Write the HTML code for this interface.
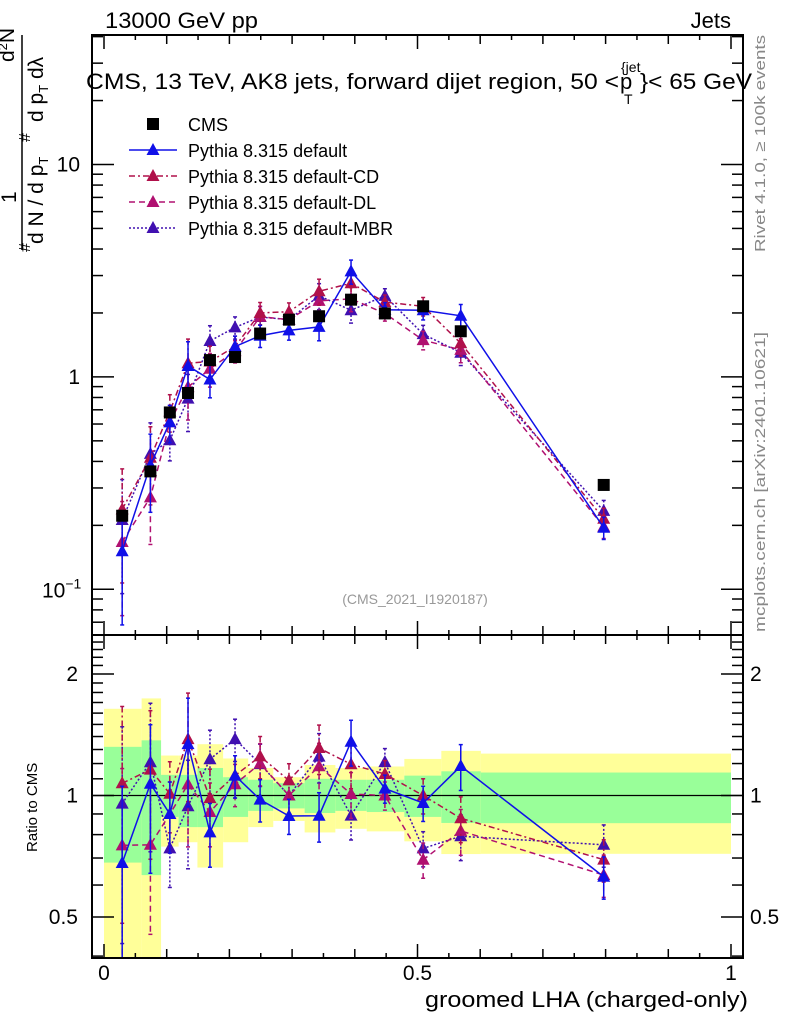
<!DOCTYPE html>
<html><head><meta charset="utf-8"><style>
html,body{margin:0;padding:0;background:#fff;}
svg{display:block;font-family:"Liberation Sans",sans-serif;}
</style></head><body>
<svg id="chart" width="786" height="1024" viewBox="0 0 786 1024" xmlns="http://www.w3.org/2000/svg">
<defs>
<clipPath id="clipMain"><rect x="92" y="35" width="651" height="600"/></clipPath>
<clipPath id="clipRatio"><rect x="92" y="635" width="651" height="323"/></clipPath>
</defs>
<rect x="0" y="0" width="786" height="1024" fill="#fff"/>
<g id="ratioBands" clip-path="url(#clipRatio)"></g>
<g id="mainMarks" clip-path="url(#clipMain)"></g>
<g id="ratioMarks" clip-path="url(#clipRatio)"></g>
<g id="axes"></g>
<text x="105" y="28" font-size="22" textLength="153" lengthAdjust="spacingAndGlyphs">13000 GeV pp</text>
<text x="731" y="28" font-size="22" text-anchor="end">Jets</text>
<g font-size="22">
<text x="86" y="89" textLength="533" lengthAdjust="spacingAndGlyphs">CMS, 13 TeV, AK8 jets, forward dijet region, 50 &lt;</text>
<text x="620" y="89">p</text>
<text x="621" y="72" font-size="14">{jet</text>
<text x="624" y="104" font-size="14">T</text>
<text x="640" y="89" textLength="112" lengthAdjust="spacingAndGlyphs">}&lt; 65 GeV</text>
</g>
<text x="415" y="604" font-size="14" fill="#999" text-anchor="middle">(CMS_2021_I1920187)</text>
<text transform="translate(765,252) rotate(-90)" font-size="15" fill="#888" textLength="217" lengthAdjust="spacingAndGlyphs">Rivet 4.1.0, ≥ 100k events</text>
<text transform="translate(765,632) rotate(-90)" font-size="15" fill="#888" textLength="300" lengthAdjust="spacingAndGlyphs">mcplots.cern.ch [arXiv:2401.10621]</text>
<g font-size="21">
<line x1="22" y1="35" x2="22" y2="250" stroke="#000" stroke-width="1.5"/>
<text transform="translate(14,62) rotate(-90)">d<tspan font-size="13" dy="-7">2</tspan><tspan dy="7">N</tspan></text>
<text transform="translate(43,122) rotate(-90)">d p<tspan font-size="13" dy="5">T</tspan><tspan dy="-5"> dλ</tspan></text>
<text transform="translate(30,142) rotate(-90)" font-size="16">#</text>
<text transform="translate(16,203) rotate(-90)">1</text>
<text transform="translate(43,244) rotate(-90)">d N / d p<tspan font-size="13" dy="5">T</tspan></text>
<text transform="translate(30,252) rotate(-90)" font-size="16">#</text>
</g>
<text transform="translate(37,852) rotate(-90)" font-size="15">Ratio to CMS</text>
<text x="425" y="1007" font-size="22" textLength="323" lengthAdjust="spacingAndGlyphs">groomed LHA (charged-only)</text>
<g id="legend"></g>
</svg>
<script>
const binEdges=[0,0.06,0.091,0.119,0.149,0.19,0.23,0.27,0.32,0.369,0.419,0.479,0.538,0.601,1.0];
const binCenters=[0.029,0.074,0.105,0.134,0.169,0.209,0.249,0.295,0.343,0.394,0.448,0.509,0.569,0.797];
const cmsValues=[0.222,0.359,0.68,0.84,1.20,1.24,1.6,1.86,1.93,2.31,1.99,2.15,1.64,0.31];
const defaultValues=[0.151,0.384,0.612,1.126,0.972,1.389,1.563,1.655,1.72,3.14,2.07,2.06,1.94,0.195];
const cdValues=[0.238,0.416,0.687,1.159,1.182,1.389,2.0,2.027,2.53,2.76,2.249,2.15,1.44,0.215];
const dlValues=[0.167,0.271,0.612,0.895,1.092,1.322,1.92,1.86,2.28,2.33,1.99,1.49,1.34,0.197];
const mbrValues=[0.212,0.434,0.503,0.79,1.476,1.711,1.914,1.86,2.41,2.06,2.408,1.59,1.30,0.234];
const modelRelErr=[0.55,0.4,0.2,0.3,0.18,0.12,0.12,0.10,0.14,0.13,0.08,0.1,0.13,0.12];
const totHi=[1.64,1.74,1.256,1.256,1.34,1.235,1.17,1.11,1.19,1.17,1.18,1.232,1.29,1.27];
const totLo=[0.3,0.3,0.747,0.766,0.663,0.766,0.835,0.865,0.81,0.827,0.815,0.77,0.716,0.717];
const statHi=[1.32,1.37,1.125,1.125,1.17,1.11,1.094,1.073,1.10,1.094,1.094,1.12,1.148,1.14];
const statLo=[0.682,0.635,0.885,0.835,0.835,0.885,0.916,0.929,0.905,0.916,0.91,0.885,0.855,0.854];
const xTickLabels=["0","0.5","1"];
const ratioTickLabels=["0.5","1","2"];

const NS="http://www.w3.org/2000/svg";
const X=v=>104+627*v;
const Y=v=>376.9-212.4*Math.log10(v);
const R=r=>795.5-121.5*Math.log2(r);
function mk(tag,parent,attrs){const e=document.createElementNS(NS,tag);for(const k in attrs)e.setAttribute(k,attrs[k]);parent.appendChild(e);return e;}
const gB=document.getElementById('ratioBands'),gM=document.getElementById('mainMarks'),gR=document.getElementById('ratioMarks'),gA=document.getElementById('axes'),gL=document.getElementById('legend');

for(let i=0;i<binCenters.length;i++){
 const x0=X(binEdges[i]),x1=X(binEdges[i+1]);
 const y=mk('rect',gB,{x:x0,y:R(totHi[i]),width:x1-x0,height:R(totLo[i])-R(totHi[i]),fill:'#ffff99'});
 
 
 const g=mk('rect',gB,{x:x0,y:R(statHi[i]),width:x1-x0,height:R(statLo[i])-R(statHi[i]),fill:'#99ff99'});
 
 
}
const oneLine=mk('line',gR,{x1:92,x2:743,y1:R(1),y2:R(1),stroke:'#000','stroke-width':1.3});



const models=[
 {name:'default',vals:defaultValues,color:'#1010e8',dash:'',label:'Pythia 8.315 default'},
 {name:'cd',vals:cdValues,color:'#b0104a',dash:'6,3,2,3',label:'Pythia 8.315 default-CD'},
 {name:'dl',vals:dlValues,color:'#b01070',dash:'6,4',label:'Pythia 8.315 default-DL'},
 {name:'mbr',vals:mbrValues,color:'#4010b0',dash:'2,2',label:'Pythia 8.315 default-MBR'}
];
function tri(parent,x,y,c){return mk('polygon',parent,{points:`${x},${y-7} ${x-6.5},${y+5} ${x+6.5},${y+5}`,fill:c});}
function errbar(parent,x,y1,y2,c,dash){
 mk('line',parent,{x1:x,x2:x,y1:y1,y2:y2,stroke:c,'stroke-width':1.5,'stroke-dasharray':dash});
 mk('line',parent,{x1:x-2,x2:x+2,y1:y1,y2:y1,stroke:c,'stroke-width':1.5});
 mk('line',parent,{x1:x-2,x2:x+2,y1:y2,y2:y2,stroke:c,'stroke-width':1.5});
}
models.slice().reverse().forEach(m=>{
 const g=mk('g',gM,{});
 
 
 const pts=m.vals.map((v,i)=>`${X(binCenters[i])},${Y(v)}`).join(' ');
 mk('polyline',g,{points:pts,fill:'none',stroke:m.color,'stroke-width':1.5,'stroke-dasharray':m.dash});
 const g2=mk('g',gR,{});
 
 
 const rp=m.vals.map((v,i)=>`${X(binCenters[i])},${R(v/cmsValues[i])}`).join(' ');
 mk('polyline',g2,{points:rp,fill:'none',stroke:m.color,'stroke-width':1.5,'stroke-dasharray':m.dash});
 m.vals.forEach((v,i)=>{
  const x=X(binCenters[i]),e=modelRelErr[i];
  errbar(g,x,Y(v*(1+e)),Y(Math.max(v*(1-e),0.01)),m.color,m.dash);
  const t=tri(g,x,Y(v),m.color);
  
  
  const r=v/cmsValues[i];
  errbar(g2,x,R(r*(1+e)),R(Math.max(r*(1-e),0.05)),m.color,m.dash);
  const t2=tri(g2,x,R(r),m.color);
  
  
 });
});
cmsValues.forEach((v,i)=>{
 const s=mk('rect',gM,{x:X(binCenters[i])-6,y:Y(v)-6,width:12,height:12,fill:'#000'});
 
 
});
[[35,600],[635,323]].forEach(([y,h],k)=>{
 const f=mk('rect',gA,{x:92,y:y,width:651,height:h,fill:'none',stroke:'#000','stroke-width':2});
 
 
});
function tick(x1,y1,x2,y2){mk('line',gA,{x1,y1,x2,y2,stroke:'#000','stroke-width':1.5});}
for(let k=0;k<=20;k++){
 const v=k*0.05,x=X(v);
 const len=(k%10===0)?14:(k%2===0?9:5);
 tick(x,635,x,635-len);tick(x,35,x,35+len);
 tick(x,958,x,958-len);tick(x,635,x,635+len);
}
xTickLabels.forEach(s=>{
 const t=mk('text',gA,{x:X(parseFloat(s)),y:980,'font-size':21,'text-anchor':'middle'});
 t.textContent=s;
 
 
});
for(let d=-2;d<=1;d++){for(let m=1;m<=9;m++){
 const v=m*Math.pow(10,d),y=Y(v);
 if(y<35||y>635)continue;
 const len=m===1?22:11;
 tick(92,y,92+len,y);tick(743,y,743-len,y);
}}
[["10",10],["1",1]].forEach(([s,v])=>{
 const t=mk('text',gA,{x:80,y:Y(v)+7,'font-size':21,'text-anchor':'end'});
 t.textContent=s;
 
 
});
const tm=mk('text',gA,{x:42,y:Y(0.1)+8,'font-size':21});
tm.innerHTML='10<tspan font-size="14" dy="-9">−1</tspan>';


[0.4,0.5,0.6,0.7,0.8,0.9,1,1.1,1.2,1.3,1.4,1.5,1.6,1.7,1.8,1.9,2,2.1,2.2,2.3,2.4].forEach(v=>{
 const y=R(v);if(y<635||y>958)return;
 const len=(v===0.5||v===1||v===2)?22:11;
 tick(92,y,92+len,y);tick(743,y,743-len,y);
});
ratioTickLabels.forEach(s=>{
 const v=parseFloat(s);
 const t=mk('text',gA,{x:78,y:R(v)+7,'font-size':21,'text-anchor':'end'});
 t.textContent=s;
 
 
 const t2=mk('text',gA,{x:750,y:R(v)+7,'font-size':21});
 t2.textContent=s;
 
 
});
const ly=[124,150,176,202,228];
const sq=mk('rect',gL,{x:147,y:118,width:12,height:12,fill:'#000'});


const lt=mk('text',gL,{x:188,y:131,'font-size':18});lt.textContent='CMS';


models.forEach((m,i)=>{
 const y=ly[i+1];
 mk('line',gL,{x1:129,x2:177,y1:y,y2:y,stroke:m.color,'stroke-width':1.5,'stroke-dasharray':m.dash});
 tri(gL,153,y,m.color);
 const t=mk('text',gL,{x:188,y:y+7,'font-size':18});t.textContent=m.label;
 
 
});
</script>
</body></html>
